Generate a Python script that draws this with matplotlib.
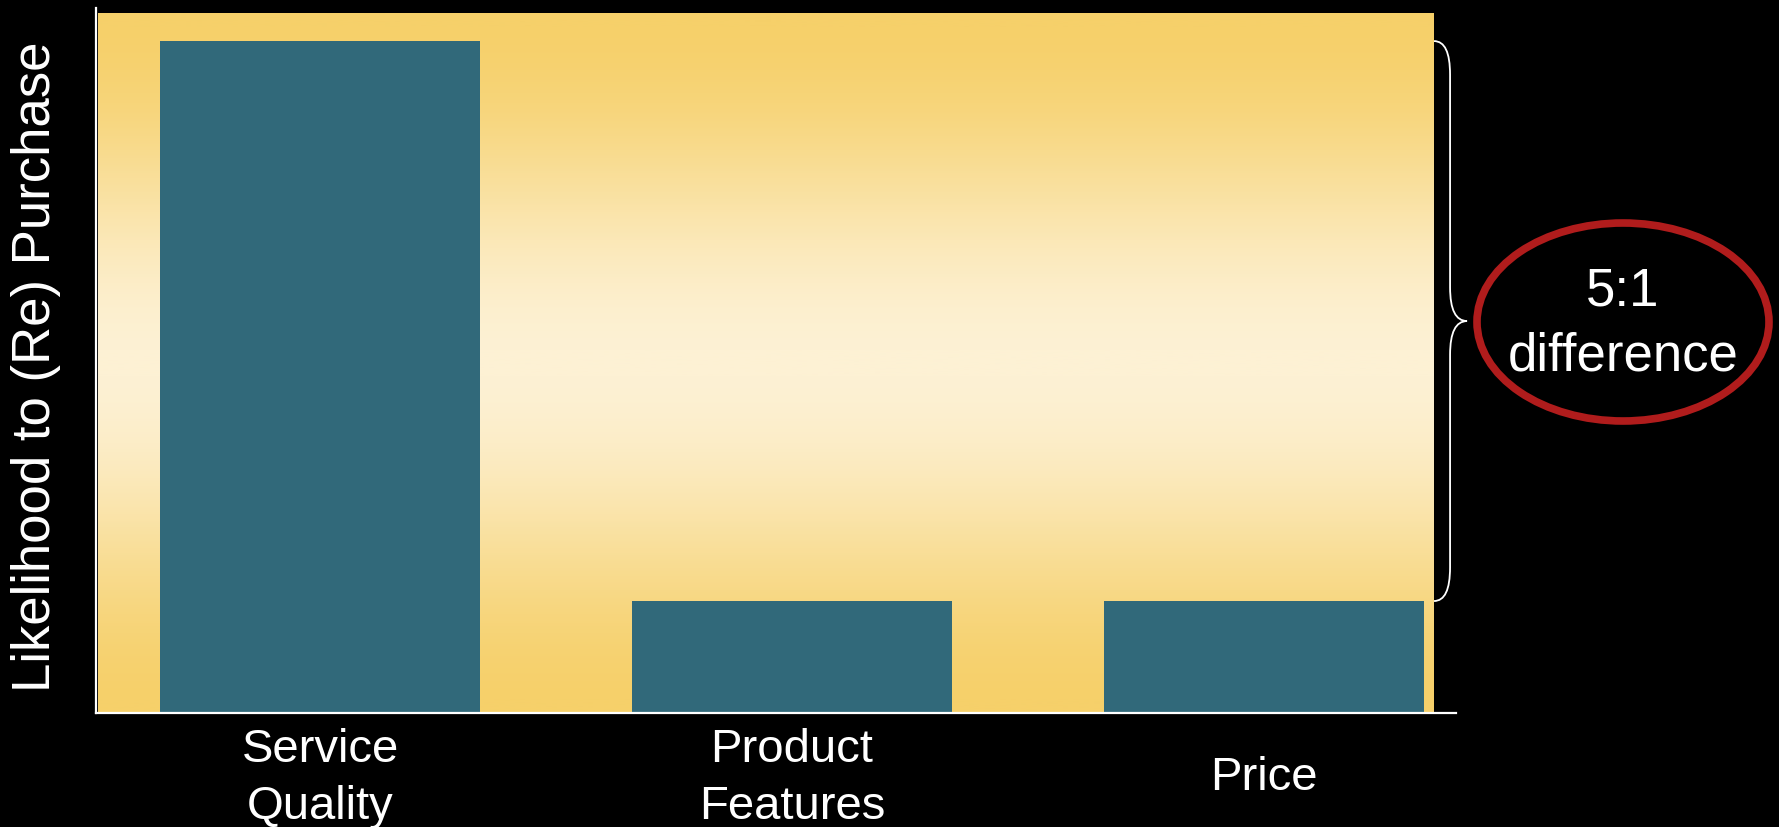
import matplotlib
matplotlib.use("Agg")
import matplotlib.pyplot as plt
import numpy as np
from matplotlib.colors import LinearSegmentedColormap
from matplotlib.patches import Ellipse, PathPatch
from matplotlib.path import Path

categories = ["Service\nQuality", "Product\nFeatures", "Price"]
values = [6.0, 1.0, 1.0]
y_label = "Likelihood to (Re) Purchase"
callout = "5:1\ndifference"

BAR_COLOR = "#31697A"
YELLOW = "#F6D06A"
CREAM = "#FDF1D4"
RED = "#B01C1C"

plt.rcParams["font.family"] = ["Liberation Sans", "DejaVu Sans"]

fig = plt.figure(figsize=(17.79, 8.27), dpi=100, facecolor="black")
ax = fig.add_axes([0.0537, 0.1378, 0.7648, 0.8525])
ax.set_facecolor("black")

x = np.arange(len(categories))
ax.set_xlim(-0.4756, 2.4068)
ax.set_ylim(0, 6.295)

# background gradient (yellow - cream - yellow), smooth blend
cmap = LinearSegmentedColormap.from_list("bg", [YELLOW, CREAM])
s = np.linspace(0, 1, 512)
grad = (0.5 - 0.5 * np.cos(2 * np.pi * s)).reshape(-1, 1)
ax.imshow(grad, cmap=cmap, aspect="auto", origin="lower", vmin=0, vmax=1,
          extent=[-0.4703, 2.360, 0, 6.25], zorder=0)

ax.bar(x, values, width=0.678, color=BAR_COLOR, zorder=2)

# axes styling
for side in ["top", "right"]:
    ax.spines[side].set_visible(False)
for side in ["left", "bottom"]:
    ax.spines[side].set_color("white")
    ax.spines[side].set_linewidth(1.6)
    ax.spines[side].set_zorder(3)
ax.set_yticks([])
ax.set_xticks(x)
ax.set_xticklabels(categories, fontsize=34, color="white", linespacing=1.38)
ax.tick_params(axis="x", length=0, pad=47)
for lab in ax.get_xticklabels():
    lab.set_va("center")

fig.text(36 / 1779, 1 - 367 / 827, y_label, rotation=90, ha="center",
         va="center", fontsize=38, color="white")

# brace between the tall bar and the short bars
top, bot = values[0], values[1]
mid = (top + bot) / 2
x0, x1, xt = 2.360, 2.394, 2.430
verts = [(x0, top),
         (x1, top), (x1, top - 0.3),
         (x1, mid + 0.3),
         (x1, mid), (xt, mid),
         (x1, mid), (x1, mid - 0.3),
         (x1, bot + 0.3),
         (x1, bot), (x0, bot)]
codes = [Path.MOVETO,
         Path.CURVE3, Path.CURVE3,
         Path.LINETO,
         Path.CURVE3, Path.CURVE3,
         Path.CURVE3, Path.CURVE3,
         Path.LINETO,
         Path.CURVE3, Path.CURVE3]
brace = PathPatch(Path(verts, codes), facecolor="none", edgecolor="white",
                  lw=1.3, clip_on=False, zorder=4)
ax.add_patch(brace)

# red ellipse callout
ell = Ellipse((1623 / 1779, 1 - 322 / 827), 292 / 1779, 198 / 827,
              transform=fig.transFigure, facecolor="none", edgecolor=RED, lw=5.5)
fig.add_artist(ell)
fig.text(1623 / 1779, 1 - 324 / 827, callout, ha="center", va="center",
         fontsize=38, color="white", linespacing=1.38)

fig.savefig("out.png", dpi=100, facecolor="black")
